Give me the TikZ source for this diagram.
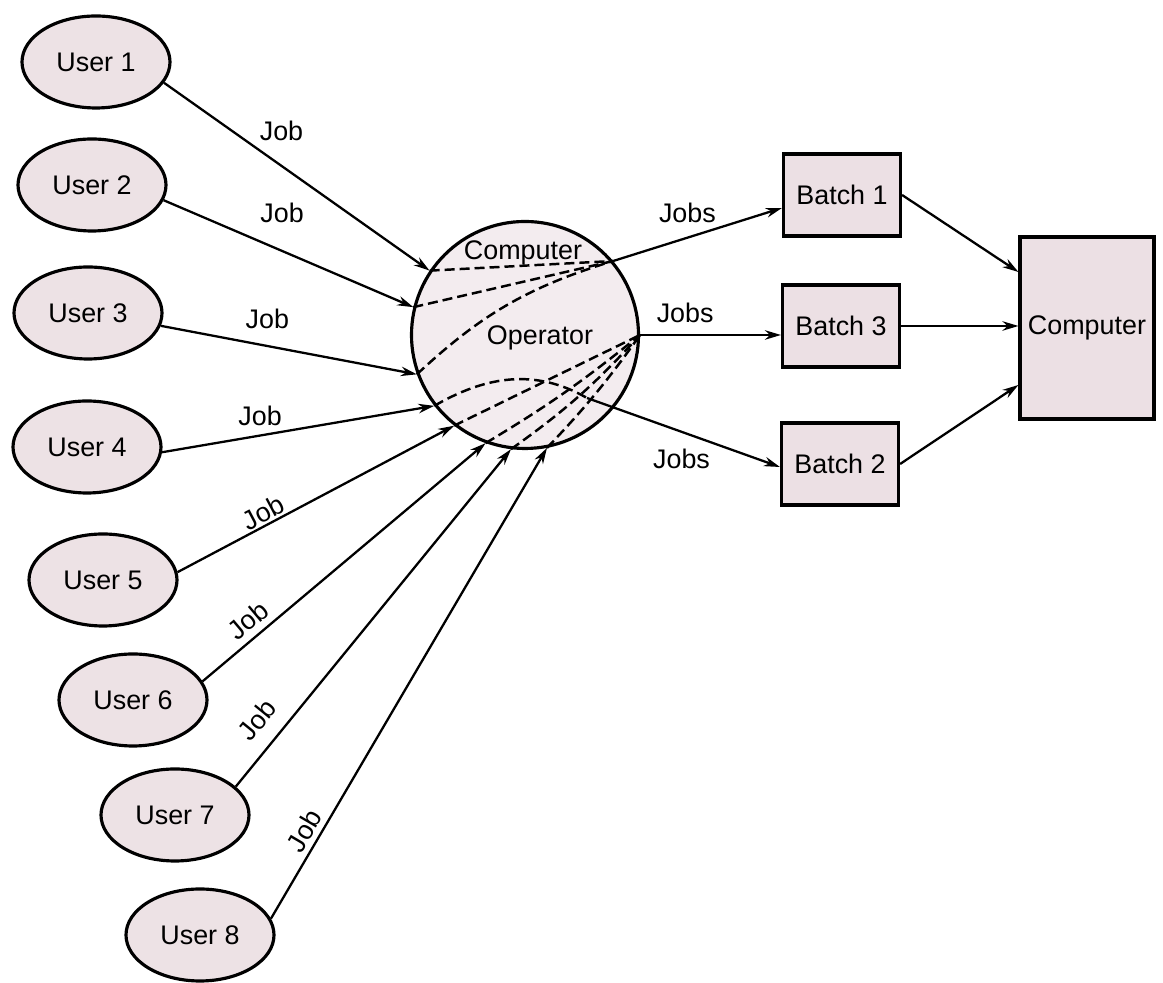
\documentclass[tikz,border=0pt]{standalone}
\usepackage{fontspec}
\setmainfont{Liberation Sans}
\usepackage{tikz}
\usetikzlibrary{shapes.geometric, arrows.meta}
\usepackage{xcolor}
\definecolor{userfill}{RGB}{237,226,229}
\definecolor{opfill}{RGB}{243,236,239}
\definecolor{batchfill}{RGB}{236,224,228}

\begin{document}
\begin{tikzpicture}[
    x=0.2mm, y=0.2mm,
    user/.style={ellipse, draw, line width=1.8pt, fill=userfill, minimum width=29.6mm, minimum height=18.4mm, font=\fontsize{15.3}{18}\selectfont},
    batch/.style={rectangle, draw, line width=1.8pt, fill=batchfill, minimum width=23.4mm, minimum height=16.4mm, font=\fontsize{15.3}{18}\selectfont},
    optxt/.style={font=\fontsize{15.3}{18}\selectfont, inner sep=1pt},
    jobtxt/.style={font=\fontsize{15.3}{18}\selectfont, inner sep=1pt},
    arrow/.style={-{Stealth[length=3.2mm, width=1.9mm]}, line width=1.3pt},
    route/.style={dash pattern=on 2mm off 1mm, line width=1.4pt}
]
\useasboundingbox (0,0) rectangle (1163,983);

\node[user] (u1) at (96,921) {User 1};
\node[user] (u2) at (92,798) {User 2};
\node[user] (u3) at (88,670) {User 3};
\node[user] (u4) at (87,536) {User 4};
\node[user] (u5) at (103,403) {User 5};
\node[user] (u6) at (133,283) {User 6};
\node[user] (u7) at (175,168) {User 7};
\node[user] (u8) at (200,48) {User 8};

\node[circle, draw, line width=1.8pt, fill=opfill, minimum size=45.4mm] (op) at (525,648) {};
\coordinate (j2) at (587,585);

\draw[route] (op.146) -- (op.40);
\draw[route] (op.166) -- (op.40);
\draw[route] (op.200) to[bend left=13] (op.40);
\draw[route] (op.218) to[out=30, in=150] (j2);
\draw[route] (op.232) -- (op.0);
\draw[route] (op.250) to[bend right=4] (op.0);
\draw[route] (op.263) to[bend right=6] (op.0);
\draw[route] (op.281) to[bend right=4] (op.0);

\node[optxt] (optop) at (523,730) {Computer};
\node[optxt] (opmid) at (540,645) {Operator};

\node[batch] (b1) at (842,788) {Batch 1};
\node[batch] (b3) at (841,657) {Batch 3};
\node[batch] (b2) at (840,519) {Batch 2};
\node[batch, minimum width=26.8mm, minimum height=36.4mm] (comp) at (1087,655) {Computer};

\draw[arrow] (u1.-17) -- node[jobtxt, pos=0.35, above right, yshift=1mm] {Job} (op.146);
\draw[arrow] (u2.-12) -- node[jobtxt, pos=0.376, above right, yshift=3mm] {Job} (op.166);
\draw[arrow] (u3.-10) -- node[jobtxt, pos=0.32, above right, yshift=2mm] {Job} (op.200);
\draw[arrow] (u4.-4) -- node[jobtxt, pos=0.36, above=1.4mm] {Job} (op.218);
\draw[arrow] (u5.6) -- node[jobtxt, pos=0.33, sloped, above] {Job} (op.232);
\draw[arrow] (u6.15) -- node[jobtxt, pos=0.2, sloped, above=1mm] {Job} (op.250);
\draw[arrow] (u7.25) -- node[jobtxt, pos=0.15, sloped, above=2.6mm] {Job} (op.263);
\draw[arrow] (u8.13) -- node[jobtxt, pos=0.17, sloped, above=0.6mm] {Job} (op.281);

\draw[arrow] (op.40) -- node[jobtxt, pos=0.44, above=2.4mm] {Jobs} ([yshift=-2.6mm]b1.west);
\draw[arrow] (op.0) -- node[jobtxt, pos=0.32, above=1.8mm] {Jobs} (op.0 -| b3.west);
\draw[arrow] (j2) -- node[jobtxt, pos=0.49, below=2.8mm] {Jobs} ([yshift=-0.6mm]b2.west);

\draw[arrow] (b1.east) -- ([yshift=11.2mm]comp.west);
\draw[arrow] (b3.east) -- (b3.east -| comp.west);
\draw[arrow] (b2.east) -- ([yshift=-11.4mm]comp.west);
\end{tikzpicture}
\end{document}
